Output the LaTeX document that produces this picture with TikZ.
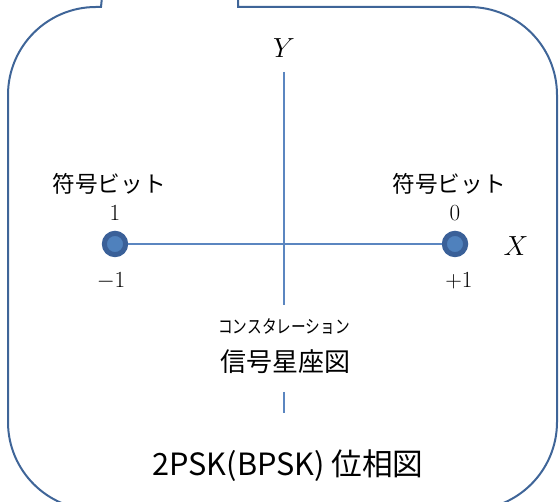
\documentclass[tikz,border=0pt]{standalone}
\usepackage{fontspec}
\newfontfamily\jp{Noto Sans CJK JP}
\definecolor{frame}{HTML}{3F6598}
\definecolor{axis}{HTML}{5B86C0}
\definecolor{dotout}{HTML}{3A6098}
\definecolor{dotin}{HTML}{4F81BD}
\begin{document}
\begin{tikzpicture}[x=0.75pt,y=0.75pt,
  framestyle/.style={draw=frame,line width=1.5pt},
  axisstyle/.style={draw=axis,line width=1.1pt},
  pointdot/.style={circle,fill=dotin,draw=dotout,line width=3.8pt,minimum size=16pt,inner sep=0pt},
  jplabel/.style={font=\jp\fontsize{17}{20}\selectfont,inner sep=0pt},
  numlabel/.style={font=\fontsize{17}{20}\selectfont,inner sep=0pt},
  numlabelb/.style={font=\fontsize{19}{22}\selectfont,inner sep=0pt},
  axlabel/.style={font=\fontsize{20}{24}\selectfont,inner sep=0pt}]
\useasboundingbox (0,0) rectangle (560,502);
\clip (0,0) rectangle (560,502);
% callout frame
\draw[framestyle] (103,515) -- (101,495) -- (96,495)
  arc[start angle=90,end angle=180,radius=66pt] -- (8,80)
  arc[start angle=180,end angle=270,radius=66pt] -- (469,-8)
  arc[start angle=270,end angle=360,radius=66pt] -- (557,407)
  arc[start angle=0,end angle=90,radius=66pt] -- (238,495) -- (238,515);
% axes
\coordinate (ytop) at (284,430);
\coordinate (ybot) at (284,197);
\coordinate (ystubA) at (284,110);
\coordinate (ystubB) at (284,89);
\draw[axisstyle] (ytop) -- (ybot);
\draw[axisstyle] (ystubA) -- (ystubB);
\node[pointdot] (pl) at (115,258) {};
\node[pointdot] (pr) at (455,258) {};
\draw[axisstyle] (pl) -- (pr);
% labels
\node[axlabel] (ylab) at (284,454) {$Y$};
\node[axlabel] (xlab) at (516,256) {$X$};
\node[jplabel] (bitl) at (109,318) {符号ビット};
\node[jplabel] (bitr) at (449,318) {符号ビット};
\node[numlabel] (onel) at (115,289) {$1$};
\node[numlabel] (zeror) at (455,289) {$0$};
\node[numlabelb] (ml) at (111,221) {$-1$};
\node[numlabelb] (pr1) at (459,221) {$+1$};
\node[font=\jp\fontsize{11}{13}\selectfont,inner sep=0pt] (ruby) at (284,175) {\scalebox{1}[1.25]{コンスタレーション}};
\node[font=\jp\fontsize{19.5}{22}\selectfont,inner sep=0pt] (const) at (285,140) {信号星座図};
\node[font=\jp\fontsize{23}{26}\selectfont,inner sep=0pt] (title) at (288,36) {2PSK(BPSK) 位相図};
\end{tikzpicture}
\end{document}
